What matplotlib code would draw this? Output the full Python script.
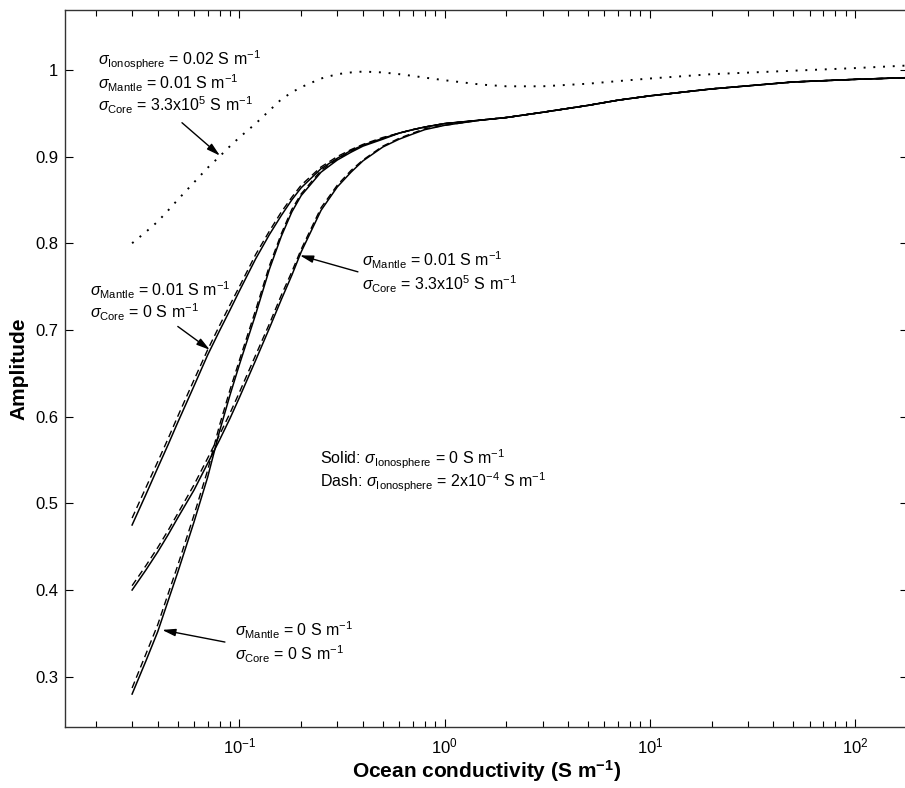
import numpy as np
import matplotlib
matplotlib.use('Agg')
import matplotlib.pyplot as plt
from matplotlib.ticker import FixedLocator, FixedFormatter, LogLocator, NullFormatter

matplotlib.rcParams['font.family'] = 'Liberation Sans'
matplotlib.rcParams['mathtext.fontset'] = 'custom'
matplotlib.rcParams['mathtext.rm'] = 'Liberation Sans'
matplotlib.rcParams['mathtext.it'] = 'Liberation Sans:italic'
matplotlib.rcParams['mathtext.bf'] = 'Liberation Sans:bold'

# ocean conductivity samples (S/m)
cond = [0.03, 0.035, 0.04, 0.045, 0.05, 0.06, 0.07, 0.08, 0.09, 0.1,
        0.12, 0.14, 0.16, 0.18, 0.2, 0.25, 0.3, 0.35, 0.4, 0.5,
        0.6, 0.7, 0.8, 1, 1.5, 2, 3, 5, 7, 10, 20, 50, 100, 181]

# mantle 0.01, core 0
amp_m01_c0 = [0.475, 0.510, 0.541, 0.568, 0.593, 0.635, 0.671, 0.699, 0.723, 0.745,
              0.782, 0.810, 0.832, 0.850, 0.864, 0.886, 0.898, 0.907, 0.913, 0.921,
              0.927, 0.931, 0.934, 0.938, 0.942, 0.945, 0.951, 0.959, 0.965, 0.970,
              0.978, 0.986, 0.989, 0.991]
amp_m01_c0_dash = [0.483, 0.518, 0.548, 0.575, 0.600, 0.642, 0.677, 0.705, 0.729, 0.750,
                   0.787, 0.814, 0.836, 0.853, 0.867, 0.888, 0.900, 0.908, 0.914, 0.922,
                   0.927, 0.931, 0.934, 0.938, 0.942, 0.945, 0.951, 0.959, 0.965, 0.970,
                   0.978, 0.986, 0.989, 0.991]
# mantle 0, core 0
amp_m0_c0 = [0.280, 0.318, 0.352, 0.388, 0.420, 0.478, 0.530, 0.583, 0.625, 0.660,
             0.718, 0.770, 0.808, 0.836, 0.855, 0.882, 0.896, 0.905, 0.912, 0.920,
             0.927, 0.931, 0.934, 0.938, 0.942, 0.945, 0.951, 0.959, 0.965, 0.970,
             0.978, 0.986, 0.989, 0.991]
amp_m0_c0_dash = [0.287, 0.326, 0.360, 0.396, 0.428, 0.486, 0.538, 0.590, 0.631, 0.665,
                  0.723, 0.774, 0.811, 0.839, 0.857, 0.884, 0.897, 0.906, 0.913, 0.921,
                  0.927, 0.931, 0.934, 0.938, 0.942, 0.945, 0.951, 0.959, 0.965, 0.970,
                  0.978, 0.986, 0.989, 0.991]
# mantle 0.01, core 3.3e5
amp_m01_c33 = [0.400, 0.423, 0.444, 0.464, 0.483, 0.515, 0.546, 0.573, 0.598, 0.622,
               0.665, 0.702, 0.735, 0.763, 0.790, 0.838, 0.865, 0.882, 0.895, 0.911,
               0.920, 0.926, 0.931, 0.936, 0.942, 0.945, 0.951, 0.959, 0.965, 0.970,
               0.978, 0.986, 0.989, 0.991]
amp_m01_c33_dash = [0.405, 0.428, 0.449, 0.469, 0.488, 0.521, 0.552, 0.579, 0.604, 0.628,
                    0.671, 0.707, 0.740, 0.767, 0.793, 0.841, 0.867, 0.884, 0.896, 0.912,
                    0.921, 0.927, 0.932, 0.936, 0.942, 0.945, 0.951, 0.959, 0.965, 0.970,
                    0.978, 0.986, 0.989, 0.991]
# ionosphere 0.02, mantle 0.01, core 3.3e5
amp_iono = [0.800, 0.813, 0.825, 0.838, 0.850, 0.870, 0.887, 0.900, 0.912, 0.922,
            0.938, 0.953, 0.966, 0.974, 0.980, 0.990, 0.995, 0.997, 0.998, 0.997,
            0.995, 0.993, 0.991, 0.988, 0.983, 0.981, 0.981, 0.984, 0.987, 0.990,
            0.995, 0.999, 1.002, 1.005]

ytick_vals = [0.3, 0.4, 0.5, 0.6, 0.7, 0.8, 0.9, 1.0]
ytick_labels = ['0.3', '0.4', '0.5', '0.6', '0.7', '0.8', '0.9', '1']

fig = plt.figure(figsize=(9.05, 7.88), dpi=100)
ax = fig.add_axes([0.0723, 0.0774, 0.931, 0.9099])

for y in (amp_m01_c0, amp_m0_c0, amp_m01_c33):
    ax.plot(cond, y, color='k', lw=1.1)
for y in (amp_m01_c0_dash, amp_m0_c0_dash, amp_m01_c33_dash):
    ax.plot(cond, y, color='k', lw=1.0, dashes=(5, 3))
ax.plot(cond, amp_iono, color='k', lw=1.4, linestyle=(0, (1, 4)))

ax.set_xscale('log')
ax.set_xlim(0.0142, 181)
ax.set_ylim(0.242, 1.069)
ax.yaxis.set_major_locator(FixedLocator(ytick_vals))
ax.yaxis.set_major_formatter(FixedFormatter(ytick_labels))
ax.xaxis.set_major_locator(LogLocator(base=10))
ax.xaxis.set_minor_locator(LogLocator(base=10, subs=np.arange(2, 10)))
ax.xaxis.set_minor_formatter(NullFormatter())
ax.tick_params(which='both', direction='in', top=True, right=True, labelsize=12)
ax.tick_params(which='major', length=6, width=0.8)
ax.tick_params(which='minor', length=4, width=0.8)
ax.tick_params(axis='x', pad=7)
ax.tick_params(axis='y', pad=5)
for s in ax.spines.values():
    s.set_linewidth(1.0)
    s.set_color('#333333')

ax.set_xlabel(r'Ocean conductivity (S m$^{\mathbf{-1}}$)', fontsize=15, fontweight='bold', labelpad=1)
ax.set_ylabel('Amplitude', fontsize=15, fontweight='bold', labelpad=5)

fs = 11.5
ax.text(0.0205, 1.011, r'$\sigma_{\mathrm{Ionosphere}}$ = 0.02 S m$^{-1}$', fontsize=fs, va='center')
ax.text(0.0205, 0.985, r'$\sigma_{\mathrm{Mantle}}$ = 0.01 S m$^{-1}$', fontsize=fs, va='center')
ax.text(0.0205, 0.959, r'$\sigma_{\mathrm{Core}}$ = 3.3x10$^{5}$ S m$^{-1}$', fontsize=fs, va='center')

ax.text(0.0187, 0.746, r'$\sigma_{\mathrm{Mantle}}$ = 0.01 S m$^{-1}$', fontsize=fs, va='center')
ax.text(0.0187, 0.720, r'$\sigma_{\mathrm{Core}}$ = 0 S m$^{-1}$', fontsize=fs, va='center')

ax.text(0.395, 0.780, r'$\sigma_{\mathrm{Mantle}}$ = 0.01 S m$^{-1}$', fontsize=fs, va='center')
ax.text(0.395, 0.753, r'$\sigma_{\mathrm{Core}}$ = 3.3x10$^{5}$ S m$^{-1}$', fontsize=fs, va='center')

ax.text(0.247, 0.551, r'Solid: $\sigma_{\mathrm{Ionosphere}}$ = 0 S m$^{-1}$', fontsize=fs, va='center')
ax.text(0.247, 0.524, r'Dash: $\sigma_{\mathrm{Ionosphere}}$ = 2x10$^{-4}$ S m$^{-1}$', fontsize=fs, va='center')

ax.text(0.095, 0.353, r'$\sigma_{\mathrm{Mantle}}$ = 0 S m$^{-1}$', fontsize=fs, va='center')
ax.text(0.095, 0.326, r'$\sigma_{\mathrm{Core}}$ = 0 S m$^{-1}$', fontsize=fs, va='center')

arrow = dict(arrowstyle='-|>,head_length=0.8,head_width=0.22', color='k', lw=1.0, shrinkA=0, shrinkB=0)
ax.annotate('', xy=(0.0804, 0.901), xytext=(0.0525, 0.939), arrowprops=arrow)
ax.annotate('', xy=(0.0718, 0.677), xytext=(0.0501, 0.704), arrowprops=arrow)
ax.annotate('', xy=(0.197, 0.786), xytext=(0.378, 0.767), arrowprops=arrow)
ax.annotate('', xy=(0.042, 0.354), xytext=(0.085, 0.340), arrowprops=arrow)

fig.savefig('out.png', dpi=100)
